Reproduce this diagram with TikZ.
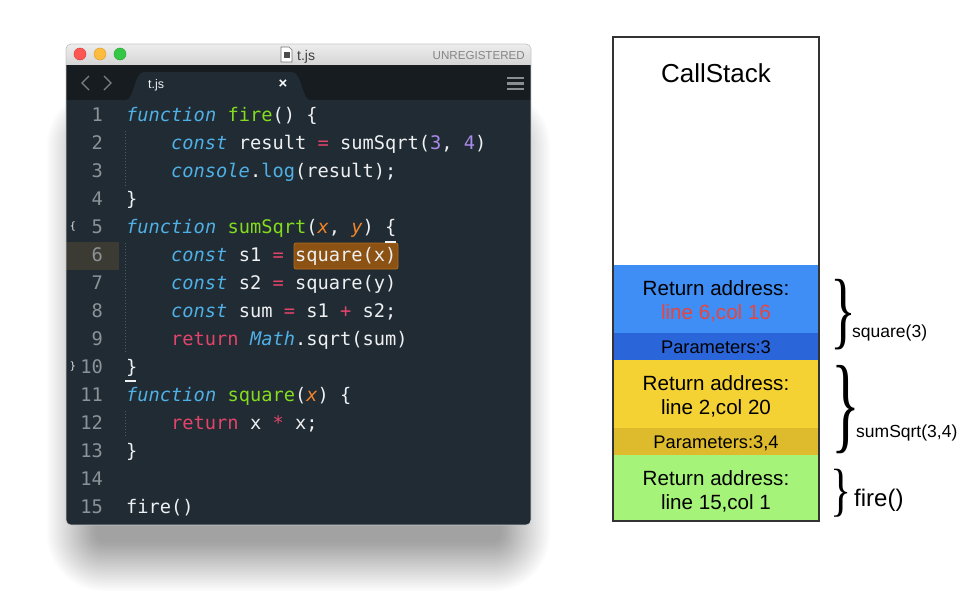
\documentclass[tikz,border=0pt]{standalone}
\usepackage{graphicx}
\usepackage{fontspec}
\setmainfont{Liberation Sans}
\newfontfamily\codefont{DejaVu Sans Mono}
\newfontfamily\bracefont{Liberation Serif}
\definecolor{codebg}{HTML}{202B33}
\definecolor{tabbar}{HTML}{161C20}
\definecolor{titletop}{HTML}{EDEDED}
\definecolor{titlebot}{HTML}{D5D5D5}
\definecolor{kwblue}{HTML}{4FB0E6}
\definecolor{fngreen}{HTML}{84DC1E}
\definecolor{opred}{HTML}{E2446A}
\definecolor{numpurple}{HTML}{A98AE8}
\definecolor{parorange}{HTML}{F0842A}
\definecolor{codewhite}{HTML}{EEF0F2}
\definecolor{lnum}{HTML}{8C9398}
\definecolor{hlbrown}{HTML}{8B5213}
\definecolor{hlborder}{HTML}{B56C1A}
\definecolor{gutterhl}{HTML}{3B3A33}
\definecolor{navgray}{HTML}{7A8288}
\definecolor{stblue}{HTML}{3F8EF5}
\definecolor{stdblue}{HTML}{2A65D9}
\definecolor{styellow}{HTML}{F5D233}
\definecolor{stdyellow}{HTML}{DDBB2C}
\definecolor{stgreen}{HTML}{A6F37A}
\definecolor{stred}{HTML}{E8453C}
\definecolor{stborder}{HTML}{333333}
\newcommand\Kw[1]{\textcolor{kwblue}{\itshape #1}}
\newcommand\Fn[1]{\textcolor{fngreen}{#1}}
\newcommand\Op[1]{\textcolor{opred}{#1}}
\newcommand\Nm[1]{\textcolor{numpurple}{#1}}
\newcommand\Pa[1]{\textcolor{parorange}{\itshape #1}}
\newcommand\Bl[1]{\textcolor{kwblue}{#1}}
% #1 font size, #2 vertical scale
\newcommand\TallBrace[2]{\scalebox{1}[#2]{\bracefont\fontsize{#1}{#1}\selectfont\}}}
\frenchspacing
\begin{document}
\begin{tikzpicture}[x=1pt,y=-1pt,
  codeline/.style={anchor=base west,inner sep=0pt,text=codewhite,font=\codefont\fontsize{18.7}{20}\selectfont},
  linenum/.style={anchor=base east,inner sep=0pt,text=lnum,font=\codefont\fontsize{18.7}{20}\selectfont},
  gutmark/.style={inner sep=0pt,text=codewhite,font=\codefont\fontsize{10}{12}\selectfont},
  guide/.style={draw=lnum!45!codebg,line width=0.8pt,dash pattern=on 1pt off 2pt},
  stacktext/.style={anchor=base,inner sep=0pt,text=black,font=\fontsize{20.6}{24}\selectfont},
  paramtext/.style={anchor=base,inner sep=0pt,text=black,font=\fontsize{18.3}{22}\selectfont},
  labeltext/.style={anchor=base west,inner sep=0pt,text=black,font=\fontsize{17.5}{21}\selectfont},
  bracenode/.style={anchor=west,inner sep=0pt,text=black}]
\useasboundingbox (0,0) rectangle (966,611);
\fill[white] (0,0) rectangle (966,611);
% soft window shadow
\foreach \i in {1,...,32}{
  \fill[black,opacity=0.012,rounded corners={(6+1.6*\i)*1pt}] ({98-1.6*\i},{140-1.6*\i}) rectangle ({499+1.6*\i},{540+1.6*\i});
}
% window
\begin{scope}
\clip[rounded corners=5pt] (66,44) rectangle (531,525);
\fill[codebg] (66,44) rectangle (531,525);
\shade[top color=titletop,bottom color=titlebot] (66,44) rectangle (531,65);
\fill[tabbar] (66,65) rectangle (531,100);
\fill[codebg] (126,100) .. controls (134,100) and (134,72) .. (144,72) -- (292,72) .. controls (302,72) and (302,100) .. (310,100) -- cycle;
\fill[gutterhl] (66,242) rectangle (119,270);
\end{scope}
\draw[black!22,line width=0.6pt,rounded corners=5pt] (66,44) rectangle (531,525);
% traffic lights
\filldraw[fill={rgb,255:red,252;green,87;blue,83},draw={rgb,255:red,222;green,64;blue,62},line width=0.5pt] (80,54) circle (6);
\filldraw[fill={rgb,255:red,253;green,188;blue,64},draw={rgb,255:red,222;green,160;blue,40},line width=0.5pt] (100,54) circle (6);
\filldraw[fill={rgb,255:red,51;green,199;blue,72},draw={rgb,255:red,40;green,170;blue,55},line width=0.5pt] (120,54) circle (6);
% title
\filldraw[fill=white,draw=black!55,line width=0.6pt] (281,47) -- (289,47) -- (292,50) -- (292,62) -- (281,62) -- cycle;
\fill[black!70] (283.5,52) rectangle (289.5,58);
\node[anchor=base west,inner sep=0pt,text=black!75,font=\fontsize{14}{16}\selectfont] (title) at (297,60) {t.js};
\node[anchor=base east,inner sep=0pt,text=black!48,font=\fontsize{11.6}{14}\selectfont] (unreg) at (525,59) {UNREGISTERED};
% tab bar
\draw[navgray,line width=1.4pt] (89,76) -- (82,83) -- (89,90);
\draw[navgray,line width=1.4pt] (104,76) -- (111,83) -- (104,90);
\node[anchor=base west,inner sep=0pt,text=codewhite,font=\fontsize{12.5}{14}\selectfont] (tabname) at (148,88) {t.js};
\node[inner sep=0pt,text=white,font=\fontsize{15}{16}\selectfont\bfseries] (tabclose) at (283,84) {×};
\draw[navgray!90,line width=2.4pt] (507,78) -- (524,78) (507,83.5) -- (524,83.5) (507,89) -- (524,89);
% indent guides
\draw[guide] (125.5,131) -- (125.5,186);
\draw[guide] (125.5,243) -- (125.5,354);
\draw[guide] (125.5,411) -- (125.5,438);
% highlights
\filldraw[fill=hlbrown,draw=hlborder,line width=0.8pt,rounded corners=2pt] (294,243) rectangle (398,269);
\draw[codewhite,line width=1.4pt] (385,242) -- (396,242);
\draw[codewhite,line width=1.4pt] (125,381) -- (136,381);
% gutter markers
\node[gutmark] (gm5) at (73,227) {\{};
\node[gutmark] (gm10) at (73,367) {\}};
% line numbers
\foreach \n in {1,...,15} {
  \node[linenum] (ln\n) at (103,{121+28*(\n-1)}) {\n};
}
% code
\node[codeline] (c1) at (126,121) {\Kw{function} \Fn{fire}() \{};
\node[codeline] (c2) at (171,149) {\Kw{const} result \Op{=} sumSqrt(\Nm{3}, \Nm{4})};
\node[codeline] (c3) at (171,177) {\Kw{console}.\Bl{log}(result);};
\node[codeline] (c4) at (126,205) {\}};
\node[codeline] (c5) at (126,233) {\Kw{function} \Fn{sumSqrt}(\Pa{x}, \Pa{y}) \{};
\node[codeline] (c6) at (171,261) {\Kw{const} s1 \Op{=} square(x)};
\node[codeline] (c7) at (171,289) {\Kw{const} s2 \Op{=} square(y)};
\node[codeline] (c8) at (171,317) {\Kw{const} sum \Op{=} s1 \Op{+} s2;};
\node[codeline] (c9) at (171,345) {\Op{return} \Kw{Math}.sqrt(sum)};
\node[codeline] (c10) at (126,373) {\}};
\node[codeline] (c11) at (126,401) {\Kw{function} \Fn{square}(\Pa{x}) \{};
\node[codeline] (c12) at (171,429) {\Op{return} x \Op{*} x;};
\node[codeline] (c13) at (126,457) {\}};
\node[codeline] (c15) at (126,513) {fire()};
% call stack
\fill[stblue] (613,265) rectangle (819,333);
\fill[stdblue] (613,333) rectangle (819,360);
\fill[styellow] (613,360) rectangle (819,428);
\fill[stdyellow] (613,428) rectangle (819,455);
\fill[stgreen] (613,455) rectangle (819,521);
\draw[stborder,line width=2.2pt] (613,37) rectangle (819,521);
\node[anchor=base,inner sep=0pt,text=black,font=\fontsize{26}{30}\selectfont] (cs) at (716,82) {CallStack};
\node[stacktext] (ra1) at (716,295) {Return address:};
\node[stacktext,text=stred] (la1) at (716,319) {line 6,col 16};
\node[paramtext] (pa1) at (716,353) {Parameters:3};
\node[stacktext] (ra2) at (716,390) {Return address:};
\node[stacktext] (la2) at (716,414) {line 2,col 20};
\node[paramtext] (pa2) at (716,448) {Parameters:3,4};
\node[stacktext] (ra3) at (716,485) {Return address:};
\node[stacktext] (la3) at (716,509) {line 15,col 1};
% braces and labels
\node[bracenode] (bsq) at (830.2,315) {\TallBrace{54}{1.58}};
\node[bracenode] (bsum) at (831,410) {\TallBrace{60}{1.78}};
\node[bracenode] (bfire) at (830.5,493) {\TallBrace{44}{1.32}};
\node[labeltext] (lsq) at (852,337) {square(3)};
\node[labeltext] (lsum) at (856,437) {sumSqrt(3,4)};
\node[labeltext,font=\fontsize{24}{28}\selectfont] (lfire) at (854,506) {fire()};
\end{tikzpicture}
\end{document}
